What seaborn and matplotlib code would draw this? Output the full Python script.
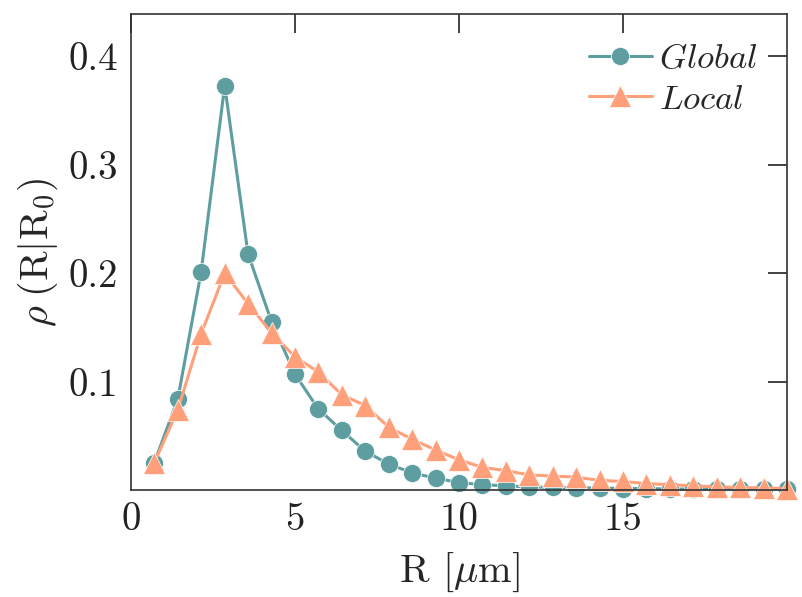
import matplotlib
matplotlib.use("Agg")
import matplotlib.pyplot as plt
import seaborn as sns
import pandas as pd

R = [0.71, 1.43, 2.14, 2.86, 3.57, 4.29, 5.00, 5.71, 6.43, 7.14, 7.86, 8.57, 9.29, 10.00,
     10.71, 11.43, 12.14, 12.86, 13.57, 14.29, 15.00, 15.71, 16.43, 17.14, 17.86, 18.57, 19.29, 20.00]
rho_global = [0.025, 0.084, 0.201, 0.373, 0.218, 0.155, 0.107, 0.075, 0.055, 0.036, 0.024, 0.016,
              0.011, 0.007, 0.005, 0.004, 0.003, 0.0025, 0.002, 0.002, 0.0015, 0.0015, 0.001, 0.001,
              0.001, 0.001, 0.001, 0.001]
rho_local = [0.025, 0.074, 0.144, 0.200, 0.172, 0.145, 0.123, 0.109, 0.088, 0.078, 0.058, 0.047,
             0.037, 0.028, 0.021, 0.018, 0.014, 0.013, 0.012, 0.009, 0.008, 0.006, 0.005, 0.004,
             0.003, 0.0025, 0.002, 0.0015]
series_names = ["Global", "Local"]
xticks = [0, 5, 10, 15]
yticks = [0.1, 0.2, 0.3, 0.4]

sns.set_style("white")
plt.rcParams["font.family"] = ["cmr10", "DejaVu Serif"]
plt.rcParams["mathtext.fontset"] = "cm"
plt.rcParams["axes.formatter.use_mathtext"] = True

fig = plt.figure(figsize=(8.03, 5.97), dpi=100)
ax = fig.add_axes([0.163, 0.179, 0.817, 0.7975])

df_g = pd.DataFrame({"R": R, "rho": rho_global})
df_l = pd.DataFrame({"R": R, "rho": rho_local})

sns.lineplot(data=df_g, x="R", y="rho", ax=ax, color="#5F9EA0", marker="o", markersize=13,
             linewidth=2.2, markeredgecolor="white", markeredgewidth=0.5,
             label=r"$Global$", clip_on=False)
sns.lineplot(data=df_l, x="R", y="rho", ax=ax, color="#FFA07A", marker="^", markersize=16,
             linewidth=2.2, markeredgecolor="white", markeredgewidth=0.5,
             label=r"$Local$", clip_on=False)

ax.set_xlim(0, 20)
ax.set_ylim(0, 0.439)
ax.set_xticks(xticks)
ax.set_xticklabels([str(t) for t in xticks])
ax.set_yticks(yticks)
ax.set_yticklabels([f"{t:.1f}" for t in yticks])
ax.tick_params(direction="in", length=14, width=1.2, top=True, right=True,
               labelsize=28, colors="#222222", pad=9)
for s in ax.spines.values():
    s.set_color("#333333")
    s.set_linewidth(1.2)

ax.set_xlabel(r"R [$\mu$m]", fontsize=29, labelpad=9)
ax.set_ylabel(r"$\rho\;(\mathrm{R}|\mathrm{R}_0)$", fontsize=29, labelpad=6)

leg = ax.legend(loc="upper right", frameon=False, fontsize=25, handlelength=1.8,
                handletextpad=0.2, borderaxespad=0.45, labelspacing=0.25)

fig.savefig("out.png", dpi=100)
